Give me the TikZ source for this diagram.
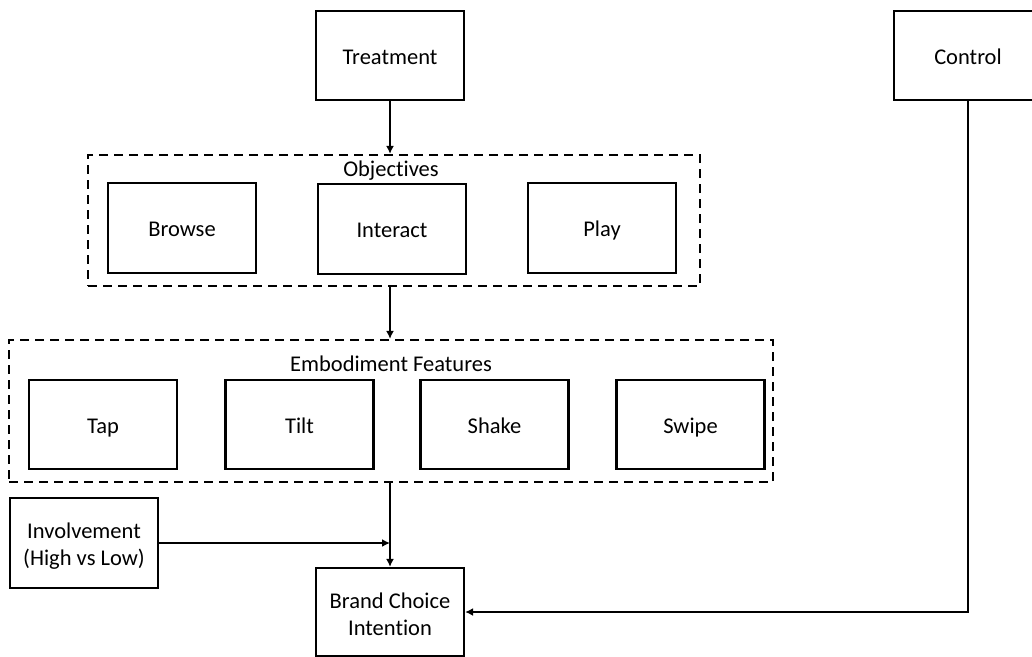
\documentclass[tikz,border=0pt]{standalone}
\usepackage{fontspec}
\setmainfont{Carlito}[Ligatures=CommonOff]
\usetikzlibrary{arrows.meta}
\begin{document}
\begin{tikzpicture}[x=1pt,y=-1pt,
  box/.style={draw, line width=2.2pt, minimum width=148pt, minimum height=89pt, inner sep=0pt, align=center, font=\fontsize{22.5}{27}\selectfont},
  one/.style={text height=18pt, text depth=1pt},
  group/.style={draw, dash pattern=on 9pt off 6pt, line width=2.2pt, inner sep=0pt},
  lbl/.style={font=\fontsize{22.5}{27}\selectfont, inner sep=0pt},
  arr/.style={-{Latex[length=8pt,width=8pt]}, line width=2.2pt}
]
\useasboundingbox (0,0) rectangle (1032,656);
% groups
\node[group, minimum width=612pt, minimum height=131pt] (obj) at (394,220.5) {};
\node[lbl] (objl) at (391,171) {Objectives};
\node[group, minimum width=764pt, minimum height=142pt] (emb) at (391,411) {};
\node[lbl] (embl) at (391,364) {Embodiment Features};
% boxes
\node[box, one] (treat) at (390,55.5) {Treatment};
\node[box, one] (ctrl) at (968,55.5) {Control};
\node[box, one, minimum height=90pt] (browse) at (182,228) {Browse};
\node[box, one, minimum height=90pt] (interact) at (392,229) {Interact};
\node[box, one, minimum height=90pt] (play) at (602,228) {Play};
\node[box, one] (tap) at (103,424.5) {Tap};
\node[box, one] (tilt) at (299.5,424.5) {Tilt};
\node[box, one] (shake) at (494.5,424.5) {Shake};
\node[box, one] (swipe) at (690.5,424.5) {Swipe};
\node[box, minimum height=90pt] (inv) at (84,543) {\rule{0pt}{22pt}Involvement\\(High vs Low)};
\node[box, minimum height=88pt] (brand) at (390,612) {\rule{0pt}{20pt}Brand Choice\\Intention};
% connectors
\draw[arr] (treat.south) -- (treat.south |- obj.north);
\draw[arr] (brand.north |- obj.south) -- (brand.north |- emb.north);
\draw[arr] (brand.north |- emb.south) -- (brand.north);
\draw[arr] (inv.east) -- (inv.east -| brand.north);
\draw[arr] (ctrl.south) |- (brand.east);
\end{tikzpicture}
\end{document}
